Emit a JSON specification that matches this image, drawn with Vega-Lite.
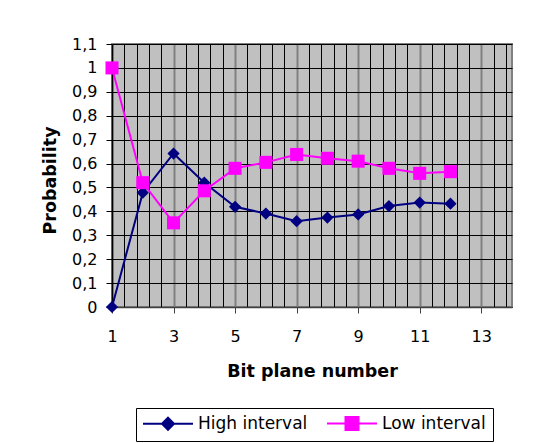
{
  "$schema": "https://vega.github.io/schema/vega-lite/v6.json",
  "width": 400,
  "height": 263,
  "autosize": {"type": "none"},
  "padding": {"left": 112, "top": 44, "right": 25, "bottom": 136},
  "background": "white",
  "config": {
    "view": {"fill": "#C0C0C0", "stroke": "#808080", "strokeWidth": 2},
    "font": "DejaVu Sans"
  },
  "data": {
    "values": [
      {"bit": 1, "series": "High interval", "p": 0},
      {"bit": 2, "series": "High interval", "p": 0.478},
      {"bit": 3, "series": "High interval", "p": 0.642},
      {"bit": 4, "series": "High interval", "p": 0.52},
      {"bit": 5, "series": "High interval", "p": 0.419},
      {"bit": 6, "series": "High interval", "p": 0.391},
      {"bit": 7, "series": "High interval", "p": 0.359},
      {"bit": 8, "series": "High interval", "p": 0.374},
      {"bit": 9, "series": "High interval", "p": 0.387},
      {"bit": 10, "series": "High interval", "p": 0.422},
      {"bit": 11, "series": "High interval", "p": 0.437},
      {"bit": 12, "series": "High interval", "p": 0.432},
      {"bit": 1, "series": "Low interval", "p": 1.0},
      {"bit": 2, "series": "Low interval", "p": 0.52},
      {"bit": 3, "series": "Low interval", "p": 0.352},
      {"bit": 4, "series": "Low interval", "p": 0.486},
      {"bit": 5, "series": "Low interval", "p": 0.58},
      {"bit": 6, "series": "Low interval", "p": 0.605},
      {"bit": 7, "series": "Low interval", "p": 0.638},
      {"bit": 8, "series": "Low interval", "p": 0.622},
      {"bit": 9, "series": "Low interval", "p": 0.61},
      {"bit": 10, "series": "Low interval", "p": 0.58},
      {"bit": 11, "series": "Low interval", "p": 0.559},
      {"bit": 12, "series": "Low interval", "p": 0.566}
    ]
  },
  "encoding": {
    "x": {
      "field": "bit",
      "type": "quantitative",
      "scale": {"domain": [1, 14], "nice": false, "zero": false},
      "axis": {
        "values": [1, 1.4, 1.8, 2.2, 2.6, 3, 3.4, 3.8, 4.2, 4.6, 5, 5.4, 5.8, 6.2, 6.6, 7, 7.4, 7.8, 8.2, 8.6, 9, 9.4, 9.8, 10.2, 10.6, 11, 11.4, 11.8, 12.2, 12.6, 13, 13.4, 13.8],
        "title": "Bit plane number",
        "titleFont": "DejaVu Sans",
        "titleFontSize": 17.5,
        "titleFontWeight": "bold",
        "titleColor": "black",
        "titleX": 200,
        "titleY": 69,
        "titleBaseline": "alphabetic",
        "titleAlign": "center",
        "labelExpr": "abs(datum.value - round(datum.value)) < 0.01 && round(datum.value) % 2 == 1 ? format(round(datum.value), 'd') : ''",
        "labelFont": "DejaVu Sans",
        "labelFontSize": 16,
        "labelColor": "black",
        "labelBaseline": "alphabetic",
        "labelPadding": 28.7,
        "labelFlush": false,
        "labelOverlap": false,
        "tickSize": 6,
        "tickWidth": 1,
        "tickColor": "#404040",
        "tickOpacity": {"condition": {"test": "abs(datum.value - round(datum.value)) < 0.01 && round(datum.value) % 2 == 1", "value": 1}, "value": 0},
        "grid": true,
        "gridColor": {"condition": {"test": "abs(datum.value - round(datum.value)) < 0.01 && round(datum.value) % 2 == 1", "value": "#808080"}, "value": "#000000"},
        "gridWidth": {"condition": {"test": "abs(datum.value - round(datum.value)) < 0.01 && round(datum.value) % 2 == 1", "value": 2}, "value": 1},
        "gridOpacity": 1,
        "domainColor": "#404040",
        "domainWidth": 1.5
      }
    },
    "y": {
      "field": "p",
      "type": "quantitative",
      "scale": {"domain": [0, 1.1], "nice": false},
      "axis": {
        "values": [0, 0.1, 0.2, 0.3, 0.4, 0.5, 0.6, 0.7, 0.8, 0.9, 1, 1.1],
        "title": "Probability",
        "titleFont": "DejaVu Sans",
        "titleFontSize": 17.5,
        "titleFontWeight": "bold",
        "titleColor": "black",
        "titleX": -57,
        "titleY": 136,
        "titleBaseline": "alphabetic",
        "titleAlign": "center",
        "labelExpr": "datum.value < 0.001 ? '0' : abs(datum.value - 1) < 0.001 ? '1' : replace(format(datum.value, '.1f'), '.', ',')",
        "labelFont": "DejaVu Sans",
        "labelFontSize": 16,
        "labelColor": "black",
        "labelPadding": 9,
        "labelFlush": false,
        "labelOverlap": false,
        "tickSize": 6,
        "tickColor": "black",
        "grid": true,
        "gridColor": "black",
        "gridWidth": 1,
        "gridOpacity": 1,
        "domainColor": "black",
        "domainWidth": 1.5
      }
    }
  },
  "layer": [
    {
      "mark": {"type": "line", "strokeWidth": 2},
      "encoding": {
        "color": {
          "field": "series",
          "type": "nominal",
          "scale": {"domain": ["High interval", "Low interval"], "range": ["#000080", "#FF00FF"]},
          "legend": {
            "title": null,
            "orient": "none",
            "legendX": 24,
            "legendY": 364,
            "direction": "horizontal",
            "strokeColor": "black",
            "fillColor": "white",
            "padding": 7,
            "cornerRadius": 0,
            "labelFont": "DejaVu Sans",
            "labelFontSize": 17,
            "labelColor": "black",
            "labelOffset": 38,
            "labelLimit": 300,
            "columnPadding": 15,
            "symbolSize": 100,
            "symbolStrokeWidth": 2,
            "symbolType": "M-1.7,0H8.3",
            "encode": {
              "symbols": {
                "update": {
                  "shape": {"signal": "datum.value === 'High interval' ? 'M-1.7,0H8.3M3.3,-1.2L4.5,0L3.3,1.2L2.1,0Z' : 'M-1.7,0H8.3M2,-1.3H4.6V1.3H2Z'"},
                  "fill": {"signal": "datum.value === 'High interval' ? '#000080' : '#FF00FF'"},
                  "stroke": {"signal": "datum.value === 'High interval' ? '#000080' : '#FF00FF'"},
                  "strokeWidth": {"value": 2},
                  "opacity": {"value": 1},
                  "fillOpacity": {"value": 1}
                }
              }
            }
          }
        }
      }
    },
    {
      "transform": [{"filter": "datum.series === 'High interval'"}],
      "mark": {"type": "point", "filled": true, "opacity": 1, "shape": "diamond", "size": 150, "color": "#000080"},
      "encoding": {}
    },
    {
      "transform": [{"filter": "datum.series === 'Low interval'"}],
      "mark": {"type": "point", "filled": true, "opacity": 1, "shape": "square", "size": 170, "color": "#FF00FF"},
      "encoding": {}
    }
  ]
}
